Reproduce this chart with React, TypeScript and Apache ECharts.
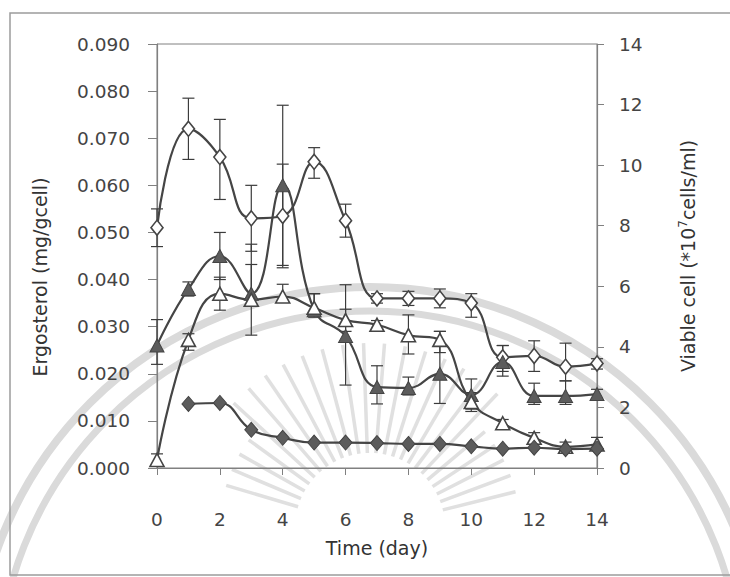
import React, { useEffect, useRef } from "react";
import * as echarts from "echarts";

// Sampling days
const days = [0, 1, 2, 3, 4, 5, 6, 7, 8, 9, 10, 11, 12, 13, 14];

// Ergosterol content, open-diamond series (mg/gcell)
const openDiamond = [0.051, 0.072, 0.066, 0.053, 0.0535, 0.065, 0.0525, 0.036, 0.036, 0.036, 0.035, 0.0235, 0.0238, 0.0215, 0.0222];
const openDiamondErr = [
  [0.047, 0.055], [0.0655, 0.0785], [0.057, 0.074], [0.046, 0.06], [0.0425, 0.0645],
  [0.0615, 0.068], [0.049, 0.056], [0.035, 0.037], [0.0345, 0.0375], [0.034, 0.038],
  [0.032, 0.037], [0.0205, 0.026], [0.0205, 0.027], [0.0185, 0.0265], [0.021, 0.0232],
];

// Filled-triangle series
const filledTriangle = [0.026, 0.038, 0.045, 0.037, 0.06, 0.0335, 0.028, 0.0172, 0.017, 0.02, 0.0155, 0.0225, 0.0153, 0.0153, 0.0157];
const filledTriangleErr = [
  [0.022, 0.0315], [0.0365, 0.0395], [0.04, 0.05], [0.0344, 0.0475], [0.043, 0.077],
  [0.032, 0.037], [0.0176, 0.0389], [0.0136, 0.0217], [0.0155, 0.0193], [0.0137, 0.029],
  [0.012, 0.0189], [0.0195, 0.026], [0.0135, 0.018], [0.0135, 0.0185], [0.0147, 0.0167],
];

// Open-triangle series
const openTriangle = [0.0017, 0.0272, 0.037, 0.0357, 0.0364, 0.034, 0.0314, 0.0304, 0.0282, 0.0272, 0.014, 0.0095, 0.0064, 0.0045, 0.005];
const openTriangleErr = [
  [0.0005, 0.003], [0.025, 0.0285], [0.0335, 0.0405], [0.0282, 0.0432], [0.0355, 0.039],
  [0.0325, 0.037], [0.029, 0.0337], [0.0295, 0.0313], [0.0242, 0.0325], [0.0245, 0.029],
  [0.0125, 0.016], [0.0088, 0.0103], [0.005, 0.0075], [0.0038, 0.0055], [0.004, 0.0065],
];

// Filled-diamond series (starts on day 1)
const filledDiamondDays = [1, 2, 3, 4, 5, 6, 7, 8, 9, 10, 11, 12, 13, 14];
const filledDiamond = [0.0136, 0.0138, 0.0081, 0.0064, 0.0054, 0.0054, 0.0053, 0.0051, 0.0051, 0.0046, 0.0041, 0.0043, 0.004, 0.0041];

// Axis ranges
const leftMax = 0.09;
const leftStep = 0.01;
const rightMax = 14;
const rightStep = 2;
const dayMax = 14;
const dayStep = 2;

const FONT = "DejaVu Sans";
const INK = "#454545";
const TEXT = "#444";
const AXIS = "#808080";
const WM = "#dadada";

function errorBars(name: string, xs: number[], errs: number[][]) {
  return {
    type: "custom",
    name,
    silent: true,
    z: 1,
    data: xs.map((d, i) => [d, errs[i][0], errs[i][1]]),
    encode: { x: 0, y: [1, 2] },
    renderItem: (_params: any, api: any) => {
      const x = api.value(0);
      const lo = api.coord([x, api.value(1)]);
      const hi = api.coord([x, api.value(2)]);
      const hw = 6;
      const style = { stroke: "#3c3c3c", lineWidth: 1.2, fill: "none" };
      return {
        type: "group",
        children: [
          { type: "line", shape: { x1: lo[0], y1: lo[1], x2: hi[0], y2: hi[1] }, style },
          { type: "line", shape: { x1: lo[0] - hw, y1: lo[1], x2: lo[0] + hw, y2: lo[1] }, style },
          { type: "line", shape: { x1: hi[0] - hw, y1: hi[1], x2: hi[0] + hw, y2: hi[1] }, style },
        ],
      };
    },
  };
}

function lineSeries(name: string, xs: number[], ys: number[], symbol: string, size: number[], filled: boolean) {
  return {
    type: "line",
    name,
    z: 3,
    data: xs.map((d, i) => [d, ys[i]]),
    smooth: 0.45,
    symbol,
    symbolSize: size,
    lineStyle: { color: INK, width: 2.2 },
    itemStyle: filled
      ? { color: "#5c5c5c", borderColor: "#444", borderWidth: 1 }
      : { color: "#ffffff", borderColor: INK, borderWidth: 1.6 },
  };
}

// Faint seal watermark behind the plot: two concentric arcs and a fan of rays
function watermark() {
  const cx = 370;
  const cy = 683;
  const items: any[] = [
    { type: "arc", z: -10, shape: { cx, cy, r: 396, startAngle: Math.PI, endAngle: Math.PI * 2 }, style: { stroke: WM, lineWidth: 8, fill: "none" } },
    { type: "arc", z: -10, shape: { cx, cy, r: 372, startAngle: Math.PI, endAngle: Math.PI * 2 }, style: { stroke: WM, lineWidth: 7, fill: "none" } },
  ];
  const rx = 370;
  const ry = 528;
  for (let a = 14; a <= 166; a += 6.5) {
    const t = (a * Math.PI) / 180;
    const r0 = 75;
    const r1 = a > 40 && a < 140 ? 185 : 150;
    items.push({
      type: "line",
      z: -10,
      shape: { x1: rx + Math.cos(t) * r0, y1: ry - Math.sin(t) * r0, x2: rx + Math.cos(t) * r1, y2: ry - Math.sin(t) * r1 },
      style: { stroke: "#e0e0e0", lineWidth: 3.5 },
    });
  }
  return items;
}

export default function App() {
  const ref = useRef<HTMLDivElement>(null);

  useEffect(() => {
    if (!ref.current) return;
    const chart = echarts.init(ref.current, null, { renderer: "svg" });

    const labelStyle = { fontFamily: FONT, fontSize: 18.5, color: TEXT };
    const nameStyle = { fontFamily: FONT, fontSize: 19, color: "#333" };

    chart.setOption({
      animation: false,
      backgroundColor: "#ffffff",
      grid: { left: 157, right: 133, top: 44, bottom: 109, show: true, borderColor: AXIS, borderWidth: 1, backgroundColor: "transparent" },
      graphic: [
        ...watermark(),
        { type: "rect", z: -5, shape: { x: 10, y: 13, width: 730, height: 562 }, style: { fill: "none", stroke: "#9c9c9c", lineWidth: 1.5 } },
        {
          type: "text",
          z: 5,
          x: 40,
          y: 277,
          rotation: Math.PI / 2,
          style: { text: "Ergosterol (mg/gcell)", fontFamily: FONT, fontSize: 19, fill: "#333", textAlign: "center", textVerticalAlign: "middle" },
        },
      ],
      xAxis: {
        type: "value",
        min: 0,
        max: dayMax,
        interval: dayStep,
        name: "Time (day)",
        nameLocation: "middle",
        nameGap: 70,
        nameTextStyle: nameStyle,
        axisLine: { lineStyle: { color: AXIS, width: 1.2 } },
        axisTick: { show: true, inside: false, length: 7, lineStyle: { color: AXIS } },
        axisLabel: { ...labelStyle, margin: 42 },
        splitLine: { show: false },
      },
      yAxis: [
        {
          type: "value",
          position: "left",
          min: 0,
          max: leftMax,
          interval: leftStep,
          axisLine: { show: true, lineStyle: { color: AXIS, width: 1.2 } },
          axisTick: { show: true, inside: false, length: 9, lineStyle: { color: AXIS } },
          axisLabel: { ...labelStyle, margin: 27, formatter: (v: number) => v.toFixed(3) },
          splitLine: { show: false },
        },
        {
          type: "value",
          position: "right",
          min: 0,
          max: rightMax,
          interval: rightStep,
          name: "Viable cell (*10{sup|7}cells/ml)",
          nameLocation: "middle",
          nameRotate: 90,
          nameGap: 80,
          nameTextStyle: {
            ...nameStyle,
            rich: {
              sup: { fontFamily: FONT, fontSize: 12, color: "#333", verticalAlign: "top", lineHeight: 22 },
            },
          },
          axisLine: { show: true, lineStyle: { color: AXIS, width: 1.2 } },
          axisTick: { show: true, inside: false, length: 7, lineStyle: { color: AXIS } },
          axisLabel: { ...labelStyle, margin: 22 },
          splitLine: { show: false },
        },
      ],
      series: [
        errorBars("openDiamondErr", days, openDiamondErr),
        errorBars("filledTriangleErr", days, filledTriangleErr),
        errorBars("openTriangleErr", days, openTriangleErr),
        lineSeries("openDiamond", days, openDiamond, "diamond", [12, 15], false),
        lineSeries("filledTriangle", days, filledTriangle, "triangle", [14, 13], true),
        lineSeries("openTriangle", days, openTriangle, "triangle", [14, 13], false),
        lineSeries("filledDiamond", filledDiamondDays, filledDiamond, "diamond", [13, 15], true),
      ],
    });

    return () => chart.dispose();
  }, []);

  return <div ref={ref} style={{ position: "fixed", left: 0, top: 0, width: 730, height: 577 }} />;
}
